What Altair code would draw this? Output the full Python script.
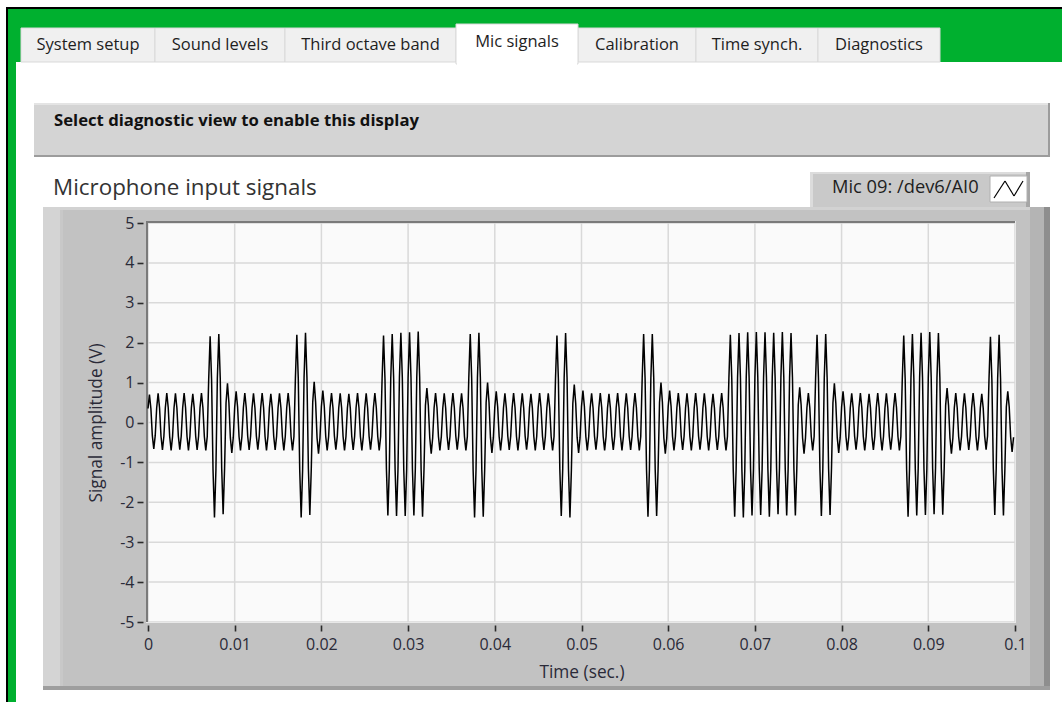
import altair as alt
import pandas as pd

# ---------------------------------------------------------------------------
# Signal data: a 1 kHz tone, 100 cycles over 0.1 s, sampled 6 times per cycle.
# Each cycle is described by its positive peak and negative trough (volts);
# the tone bursts show up as cycles with a much larger swing.
# ---------------------------------------------------------------------------
cycle_peak = [
    0.70, 0.73, 0.74, 0.73, 0.74, 0.72, 0.74, 2.16, 2.22, 0.98,
    0.78, 0.74, 0.73, 0.74, 0.72, 0.73, 0.74, 2.20, 2.25, 1.02,
    0.80, 0.74, 0.73, 0.72, 0.74, 0.73, 0.74, 2.18, 2.22, 2.25,
    2.26, 2.28, 0.86, 0.74, 0.73, 0.74, 0.73, 2.22, 2.25, 1.00,
    0.78, 0.73, 0.74, 0.73, 0.72, 0.74, 0.73, 2.18, 2.24, 0.95,
    0.80, 0.73, 0.74, 0.72, 0.74, 0.73, 0.74, 2.22, 2.22, 1.00,
    0.80, 0.74, 0.73, 0.74, 0.73, 0.72, 0.74, 2.20, 2.24, 2.26,
    2.27, 2.26, 2.25, 2.27, 2.24, 0.88, 0.74, 2.20, 2.22, 0.98,
    0.78, 0.73, 0.74, 0.72, 0.74, 0.73, 0.74, 2.18, 2.22, 2.25,
    2.27, 2.24, 0.86, 0.74, 0.73, 0.74, 0.72, 2.15, 2.20, 0.78,
]
cycle_trough = [
    -0.66, -0.69, -0.70, -0.68, -0.70, -0.69, -0.70, -2.38, -2.30, -0.76,
    -0.70, -0.69, -0.68, -0.70, -0.69, -0.70, -0.70, -2.38, -2.32, -0.78,
    -0.70, -0.68, -0.70, -0.69, -0.70, -0.68, -0.70, -2.33, -2.34, -2.34,
    -2.33, -2.36, -0.78, -0.70, -0.69, -0.68, -0.70, -2.38, -2.36, -0.76,
    -0.70, -0.69, -0.70, -0.68, -0.70, -0.69, -0.70, -2.34, -2.38, -0.76,
    -0.70, -0.68, -0.70, -0.69, -0.70, -0.69, -0.70, -2.36, -2.34, -0.78,
    -0.70, -0.69, -0.70, -0.68, -0.70, -0.69, -0.70, -2.36, -2.38, -2.33,
    -2.32, -2.36, -2.30, -2.33, -2.33, -0.78, -0.70, -2.34, -2.32, -0.76,
    -0.70, -0.68, -0.70, -0.69, -0.70, -0.68, -0.70, -2.36, -2.33, -2.32,
    -2.30, -2.31, -0.78, -0.70, -0.69, -0.70, -0.68, -2.32, -2.33, -0.74,
]
# where each of the 6 samples of a cycle sits, as a share of the peak/trough
cycle_pattern = [0.5, 1.0, 0.5, -0.5, -1.0, -0.5]
sample_rate_hz = 6000

x_ticks = [0, 0.01, 0.02, 0.03, 0.04, 0.05, 0.06, 0.07, 0.08, 0.09, 0.1]
y_ticks = [-5, -4, -3, -2, -1, 0, 1, 2, 3, 4, 5]

tab_names = ["System setup", "Sound levels", "Third octave band", "Mic signals",
             "Calibration", "Time synch.", "Diagnostics"]
active_tab = "Mic signals"
channel_name = "Mic 09: /dev6/AI0"

# build the sample table
rows = []
for c, (hi, lo) in enumerate(zip(cycle_peak, cycle_trough)):
    for k, share in enumerate(cycle_pattern):
        i = c * len(cycle_pattern) + k
        v = share * hi if share > 0 else -share * lo
        rows.append({"t": i / sample_rate_hz, "v": v})
signal = pd.DataFrame(rows)

# ---------------------------------------------------------------------------
# Layout
# ---------------------------------------------------------------------------
W, H = 1062, 702
LEFT, TOP = 148, 223          # plot area origin on the page
PW, PH = 867, 399             # plot area size
FONT = "Open Sans"
GREEN = "#00b02f"
INK = "#2a2a38"

one = pd.DataFrame({"k": [0]})


def box(x0, y0, x1, y1, fill, stroke=None, sw=1.0):
    kw = dict(fill=fill)
    if stroke:
        kw.update(stroke=stroke, strokeWidth=sw)
    else:
        kw.update(strokeWidth=0)
    return alt.Chart(one).mark_rect(**kw).encode(
        x=alt.value(x0 - LEFT), x2=alt.value(x1 - LEFT),
        y=alt.value(y0 - TOP), y2=alt.value(y1 - TOP))


def seg(x0, y0, x1, y1, color, sw=1.0):
    return alt.Chart(one).mark_rule(color=color, strokeWidth=sw).encode(
        x=alt.value(x0 - LEFT), x2=alt.value(x1 - LEFT),
        y=alt.value(y0 - TOP), y2=alt.value(y1 - TOP))


def label(text, x, y, size=15, weight="normal", align="left", color="#1e1e1e"):
    return alt.Chart(one).mark_text(
        text=text, font=FONT, fontSize=size, fontWeight=weight,
        align=align, baseline="middle", color=color).encode(
        x=alt.value(x - LEFT), y=alt.value(y - TOP))


layers = []

# window frame: black outline, green border and tab strip
layers += [
    box(6, 7, W, 9, "#000000"),
    box(6, 7, 8, H, "#000000"),
    box(8, 9, 16, H, GREEN),
    box(8, 9, W, 62, GREEN),
]

# tabs
TAB_FS = 16.5
tab_edges = [21, 155, 285, 456, 578, 696, 818, 940]
for name, x0, x1 in zip(tab_names, tab_edges[:-1], tab_edges[1:]):
    if name == active_tab:
        continue
    layers.append(box(x0, 28, x1, 62, "#f0f0f0", "#d9d9d9"))
    layers.append(label(name, (x0 + x1) / 2, 45, size=TAB_FS, align="center"))
ai = tab_names.index(active_tab)
ax0, ax1 = tab_edges[ai], tab_edges[ai + 1]
layers.append(box(ax0, 24, ax1, 64, "#ffffff", "#d9d9d9"))
layers.append(box(ax0 + 1, 60, ax1 - 1, 66, "#ffffff"))
layers.append(label(active_tab, (ax0 + ax1) / 2, 42, size=TAB_FS, align="center"))

# disabled-view banner
layers += [
    box(34, 103, 1050, 157, "#d4d4d4"),
    box(34, 103, 1050, 105, "#e4e4e4"),
    box(34, 155, 1050, 157, "#9c9c9c"),
    box(1048, 103, 1050, 157, "#9c9c9c"),
    label("Select diagnostic view to enable this display", 54, 121,
          size=16.7, weight="bold", color="#111111"),
]

# graph title
layers.append(label("Microphone input signals", 53, 188, size=22.4, color="#333333"))

# plot legend
layers += [
    box(810, 172, 1030, 207, "#c9c9c9"),
    box(810, 172, 1030, 174, "#dcdcdc"),
    box(810, 172, 813, 207, "#dcdcdc"),
    box(1026, 172, 1030, 207, "#a6a6a6"),
    label(channel_name, 832, 188, size=18.3, color="#1e1e1e"),
    box(990, 176, 1027, 202, "#ffffff", "#b0b0b0"),
    seg(994, 198, 1005, 181, "#000000", 1.2),
    seg(1005, 181, 1014, 196, "#000000", 1.2),
    seg(1014, 196, 1023, 181, "#000000", 1.2),
]

# graph frame (bevelled grey panel around the plot)
layers += [
    box(43, 207, 1050, 690, "#c2c2c2"),
    box(43, 207, 1050, 210, "#d2d2d2"),
    box(43, 207, 60, 690, "#d4d4d4"),
    box(60, 210, 63, 690, "#c8c8c8"),
    box(1030, 207, 1044, 690, "#b4b4b4"),
    box(1044, 207, 1050, 690, "#8e8e8e"),
    box(43, 686, 1050, 690, "#9e9e9e"),
]

# plot area background
layers.append(box(LEFT, TOP, LEFT + PW, TOP + PH, "#fafafa"))

xscale = alt.Scale(domain=[0, 0.1], nice=False, zero=False)
yscale = alt.Scale(domain=[-5, 5], nice=False, zero=False)

x_axis = alt.Axis(
    values=x_ticks, format=".2~f", grid=False, domain=False,
    ticks=True, tickSize=6, tickWidth=1.6, tickColor="#2b2b2b", offset=3,
    labelFont=FONT, labelFontSize=16, labelColor=INK, labelPadding=5,
    labelFlush=False, labelOverlap=False,
    title="Time (sec.)", titleFont=FONT, titleFontSize=17.3,
    titleFontWeight="normal", titleColor=INK,
    titleY=47, titleBaseline="middle", zindex=1)
y_axis = alt.Axis(
    values=y_ticks, labelExpr="toString(datum.value)", grid=False, domain=False,
    ticks=True, tickSize=6, tickWidth=1.6, tickColor="#2b2b2b", offset=5,
    labelFont=FONT, labelFontSize=16, labelColor=INK, labelPadding=3,
    labelFlush=False, labelOverlap=False,
    title="Signal amplitude (V)", titleFont=FONT, titleFontSize=17.3,
    titleFontWeight="normal", titleColor=INK,
    titleX=-47, titleY=PH / 2, titleBaseline="middle", titleAlign="center",
    zindex=1)

grid_x = alt.Chart(pd.DataFrame({"t": x_ticks})).mark_rule(
    color="#d9d9d9", strokeWidth=1.5).encode(
    x=alt.X("t:Q", scale=xscale, axis=x_axis))
grid_y = alt.Chart(pd.DataFrame({"v": y_ticks})).mark_rule(
    color="#d9d9d9", strokeWidth=1.5).encode(
    y=alt.Y("v:Q", scale=yscale, axis=y_axis))
layers += [grid_x, grid_y]

# inset border of the plot area
layers += [
    box(LEFT - 2, TOP - 2, LEFT + PW, TOP, "#7a7a7a"),
    box(LEFT - 2, TOP - 2, LEFT, TOP + PH, "#7a7a7a"),
    box(LEFT + PW, TOP - 2, LEFT + PW + 1, TOP + PH + 1, "#e8e8e8"),
    box(LEFT - 2, TOP + PH, LEFT + PW + 1, TOP + PH + 1, "#e8e8e8"),
]

wave = alt.Chart(signal).mark_line(
    color="#000000", strokeWidth=1.5, interpolate="linear").encode(
    x=alt.X("t:Q", scale=xscale, axis=x_axis),
    y=alt.Y("v:Q", scale=yscale, axis=y_axis),
)
layers.append(wave)

chart = alt.layer(*layers).properties(
    width=PW, height=PH,
    autosize=alt.AutoSizeParams(type="none"),
    padding={"left": LEFT, "top": TOP, "right": W - LEFT - PW, "bottom": H - TOP - PH},
    background="#ffffff",
).configure_view(stroke=None)

chart.save("out.html", embed_options={"renderer": "svg", "actions": False})
